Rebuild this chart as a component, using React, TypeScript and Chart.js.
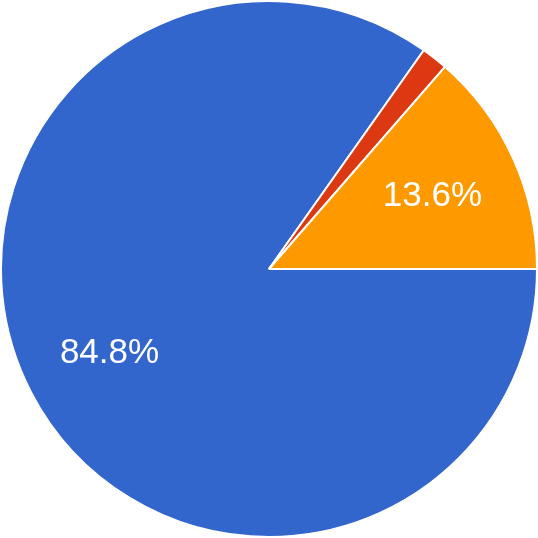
import React, { useEffect, useRef } from "react";
import { Chart, registerables } from "chart.js";

Chart.register(...registerables);

const categories = ["A", "B", "C"];
const values = [84.8, 1.6, 13.6];
const colors = ["#3366CC", "#DC3912", "#FF9900"];
const labels = ["84.8%", "", "13.6%"];

const labelPlugin = {
  id: "sliceLabels",
  afterDatasetsDraw(chart: any) {
    const ctx = chart.ctx;
    const meta = chart.getDatasetMeta(0);
    ctx.save();
    ctx.fillStyle = "#ffffff";
    ctx.font = "35px 'Liberation Sans', Arial, sans-serif";
    ctx.textAlign = "center";
    ctx.textBaseline = "middle";
    meta.data.forEach((arc: any, i: number) => {
      const text = labels[i];
      if (!text) return;
      const { x, y, startAngle, endAngle, outerRadius } = arc.getProps(
        ["x", "y", "startAngle", "endAngle", "outerRadius"],
        true
      );
      const mid = (startAngle + endAngle) / 2;
      const r = outerRadius * 0.67;
      ctx.fillText(text, x + Math.cos(mid) * r, y + Math.sin(mid) * r + 2);
    });
    ctx.restore();
  },
};

export default function App() {
  const ref = useRef<HTMLCanvasElement>(null);
  useEffect(() => {
    document.body.style.margin = "0";
    const chart = new Chart(ref.current!, {
      type: "pie",
      data: {
        labels: categories,
        datasets: [
          {
            data: values,
            backgroundColor: colors,
            borderColor: "#ffffff",
            borderWidth: 2,
          },
        ],
      },
      options: {
        animation: false,
        responsive: false,
        rotation: 90,
        layout: { padding: 0 },
        plugins: {
          legend: { display: false },
          tooltip: { enabled: false },
        },
      },
      plugins: [labelPlugin],
    });
    return () => chart.destroy();
  }, []);
  return (
    <div style={{ width: 538, height: 538 }}>
      <canvas ref={ref} width={538} height={538} style={{ display: "block" }} />
    </div>
  );
}
